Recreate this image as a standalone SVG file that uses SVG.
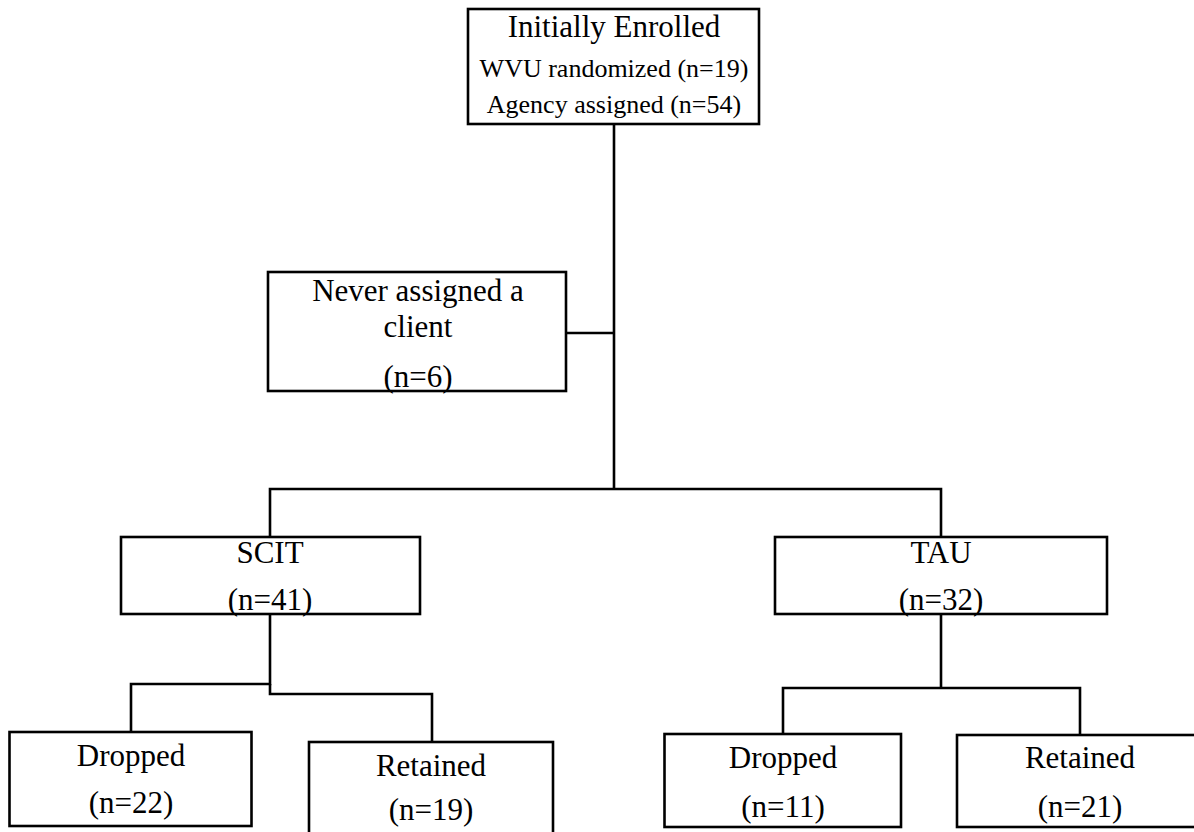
<svg xmlns="http://www.w3.org/2000/svg" width="1194" height="832" viewBox="0 0 1194 832">
  <style>
    .box { fill: #ffffff; stroke: #000000; stroke-width: 2.6; }
    .link { fill: none; stroke: #000000; stroke-width: 2.6; }
    text { font-family: "Liberation Serif", "Times New Roman", serif; fill: #000000; text-anchor: middle; }
    .lg { font-size: 31px; }
    .sm { font-size: 26px; }
  </style>
  <rect width="1194" height="832" fill="#ffffff"/>

  <!-- connectors -->
  <g id="connectors">
    <!-- trunk from enrolment down to the group split -->
    <polyline class="link" points="614,124 614,489"/>
    <polyline class="link" points="566,333 614,333"/>
    <polyline class="link" points="270,537 270,489 941,489 941,537"/>
    <!-- SCIT outcomes -->
    <polyline class="link" points="270,614 270,684 131,684 131,732"/>
    <polyline class="link" points="270,684 270,694 432,694 432,742"/>
    <!-- TAU outcomes -->
    <polyline class="link" points="941,614 941,688"/>
    <polyline class="link" points="783,734 783,688 1080,688 1080,735"/>
  </g>

  <g id="enrolled">
    <rect class="box" x="468" y="9" width="291" height="115"/>
    <text class="lg" x="614" y="37">Initially Enrolled</text>
    <text class="sm" x="614" y="77">WVU randomized (n=19)</text>
    <text class="sm" x="614" y="113">Agency assigned (n=54)</text>
  </g>

  <g id="never-assigned">
    <rect class="box" x="268" y="272" width="298" height="119"/>
    <text class="lg" x="418" y="301">Never assigned a</text>
    <text class="lg" x="418" y="337">client</text>
    <text class="lg" x="418" y="387">(n=6)</text>
  </g>

  <g id="scit">
    <rect class="box" x="121" y="537" width="299" height="77"/>
    <text class="lg" x="270" y="563">SCIT</text>
    <text class="lg" x="270" y="610">(n=41)</text>
  </g>

  <g id="tau">
    <rect class="box" x="775" y="537" width="332" height="77"/>
    <text class="lg" x="941" y="563">TAU</text>
    <text class="lg" x="941" y="610">(n=32)</text>
  </g>

  <g id="scit-dropped">
    <rect class="box" x="9.5" y="732" width="242" height="94"/>
    <text class="lg" x="131" y="766">Dropped</text>
    <text class="lg" x="131" y="813">(n=22)</text>
  </g>

  <g id="scit-retained">
    <rect class="box" x="309" y="742" width="244" height="110"/>
    <text class="lg" x="431" y="776">Retained</text>
    <text class="lg" x="431" y="820">(n=19)</text>
  </g>

  <g id="tau-dropped">
    <rect class="box" x="664.5" y="734" width="236.5" height="93"/>
    <text class="lg" x="783" y="768">Dropped</text>
    <text class="lg" x="783" y="817">(n=11)</text>
  </g>

  <g id="tau-retained">
    <rect class="box" x="957" y="735" width="246" height="92"/>
    <text class="lg" x="1080" y="768">Retained</text>
    <text class="lg" x="1080" y="817">(n=21)</text>
  </g>
</svg>
